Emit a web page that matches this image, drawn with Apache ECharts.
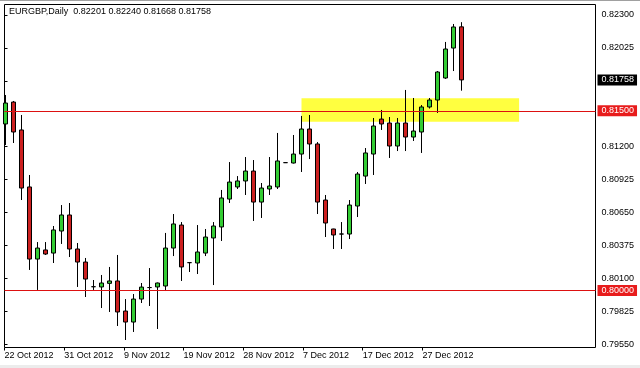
<!DOCTYPE html>
<html><head><meta charset="utf-8">
<script src="https://cdn.jsdelivr.net/npm/echarts@6/dist/echarts.min.js"></script>
<style>html,body{margin:0;padding:0;background:#fff}#c{width:640px;height:368px}</style>
</head><body><div id="c"></div>
<script>
const symbolName = 'EURGBP,Daily';
const opens = [0.81390,0.81573,0.81340,0.80864,0.80262,0.80338,0.80312,0.80496,0.80630,0.80346,0.80237,0.80031,0.80029,0.80059,0.80079,0.79828,0.79736,0.79928,0.80024,0.80029,0.80037,0.80354,0.80546,0.80232,0.80229,0.80312,0.80438,0.80530,0.80763,0.80864,0.80914,0.80997,0.80738,0.80847,0.80864,0.81067,0.81064,0.81139,0.81348,0.81223,0.80755,0.80513,0.80471,0.80471,0.80705,0.80955,0.81139,0.81431,0.81398,0.81206,0.81398,0.81281,0.81323,0.81532,0.81590,0.81774,0.82024,0.82201];
const highs = [0.81632,0.81582,0.81465,0.80964,0.80404,0.80404,0.80538,0.80713,0.80730,0.80396,0.80271,0.80087,0.80129,0.80196,0.80296,0.79928,0.79970,0.80062,0.80187,0.80066,0.80480,0.80638,0.80571,0.80237,0.80546,0.80513,0.80571,0.80839,0.81072,0.80955,0.81114,0.81089,0.80897,0.81114,0.81315,0.81069,0.81298,0.81457,0.81465,0.81239,0.80797,0.80515,0.80571,0.80755,0.80989,0.81189,0.81440,0.81507,0.81448,0.81440,0.81674,0.81607,0.81548,0.81607,0.81832,0.82075,0.82225,0.82240];
const lows = [0.81214,0.81231,0.80755,0.80171,0.80004,0.80296,0.80229,0.80388,0.80279,0.80029,0.79945,0.80004,0.79853,0.79820,0.79703,0.79586,0.79653,0.79895,0.79870,0.79678,0.79995,0.80287,0.80079,0.80154,0.80137,0.80287,0.80045,0.80413,0.80730,0.80847,0.80797,0.80580,0.80605,0.80797,0.80847,0.81065,0.81060,0.80989,0.81097,0.80638,0.80446,0.80346,0.80346,0.80429,0.80613,0.80889,0.80964,0.81340,0.81106,0.81164,0.81164,0.81248,0.81148,0.81519,0.81482,0.81766,0.81832,0.81668];
const closes = [0.81565,0.81323,0.80855,0.80262,0.80354,0.80304,0.80505,0.80630,0.80346,0.80237,0.80095,0.80031,0.80062,0.80079,0.79820,0.79736,0.79928,0.80028,0.80024,0.80062,0.80354,0.80555,0.80196,0.80232,0.80321,0.80446,0.80538,0.80772,0.80905,0.80914,0.80997,0.80738,0.80855,0.80872,0.81081,0.81067,0.81139,0.81348,0.81223,0.80738,0.80563,0.80463,0.80471,0.80713,0.80972,0.81148,0.81373,0.81390,0.81206,0.81398,0.81281,0.81331,0.81532,0.81590,0.81824,0.82016,0.82200,0.81758];
const xTickLabels = ['22 Oct 2012','31 Oct 2012','9 Nov 2012','19 Nov 2012','28 Nov 2012','7 Dec 2012','17 Dec 2012','27 Dec 2012'];
const yTickLabels = ['0.79550','0.79825','0.80100','0.80375','0.80650','0.80925','0.81200','0.81475','0.81750','0.82025','0.82300'];
const levels = [0.815, 0.800];
const zoneBars = [37, 64.2];
const zonePrices = [0.81409, 0.81605];

const FONT = 'Liberation Sans';
const last = opens.length - 1;
const candleData = opens.map((o, i) => [i, o, closes[i], lows[i], highs[i]]);
const header = symbolName + '  ' + [opens[last], highs[last], lows[last], closes[last]].map(v => v.toFixed(5)).join(' ');

const boxLabel = (bg) => ({
  show: true, position: 'end', distance: 2, formatter: p => Number(p.value).toFixed(5),
  color: '#fff', backgroundColor: bg, fontSize: 9, fontFamily: FONT, lineHeight: 10,
  padding: [1, 3, 0, 4]
});

const markLines = levels.map(v => ({
  yAxis: v, lineStyle: { color: '#dd1111', width: 1, type: 'solid' }, label: boxLabel('#e81c1c')
}));
markLines.push({ yAxis: closes[last], lineStyle: { color: 'rgba(0,0,0,0)', width: 1 }, label: boxLabel('#000') });

const chart = echarts.init(document.getElementById('c'), null, { renderer: 'canvas' });
chart.setOption({
  animation: false,
  backgroundColor: '#fff',
  title: { text: header, left: 9, top: 7, padding: 0,
    textStyle: { fontSize: 9, fontWeight: 'normal', color: '#000', fontFamily: FONT } },
  graphic: [
    { type: 'rect', left: 0, top: 0, shape: { width: 640, height: 1 }, style: { fill: '#a0a0a0' }, silent: true },
    { type: 'rect', left: 0, top: 365, shape: { width: 640, height: 3 }, style: { fill: '#ececec' }, silent: true }
  ],
  grid: [
    { left: 4.5, right: 44.5, top: 4.5, bottom: 20.5, show: true, borderColor: '#000', borderWidth: 1, backgroundColor: '#fff', containLabel: false, outerBoundsMode: 'none' },
    { left: 4.5, right: 44.5, top: 15, bottom: 23.7, show: false, containLabel: false, outerBoundsMode: 'none' },
    { left: 4.5, width: 417.9, top: 4.5, bottom: 20.5, show: false, containLabel: false, outerBoundsMode: 'none' }
  ],
  xAxis: [
    { gridIndex: 0, type: 'value', min: -0.125, max: 73.75, show: false },
    { gridIndex: 2, type: 'value', min: 0, max: 7, interval: 1, position: 'bottom',
      axisLine: { show: false }, splitLine: { show: false },
      axisTick: { show: true, length: 3, lineStyle: { color: '#000' } },
      axisLabel: { formatter: v => xTickLabels[v] || '', align: 'left', margin: 4, fontSize: 9, color: '#000', fontFamily: FONT, showMaxLabel: true, showMinLabel: true } },
    { gridIndex: 1, type: 'value', min: 0, max: 1, show: false }
  ],
  yAxis: [
    { gridIndex: 0, type: 'value', min: 0.795234, max: 0.823877, show: false },
    { gridIndex: 1, type: 'value', min: 0, max: 10, interval: 1, position: 'right',
      axisLine: { show: false }, splitLine: { show: false },
      axisTick: { show: true, length: 3, lineStyle: { color: '#000' } },
      axisLabel: { formatter: v => yTickLabels[v] || '', margin: 6, fontSize: 9, color: '#000', fontFamily: FONT, showMaxLabel: true, showMinLabel: true } },
    { gridIndex: 2, type: 'value', min: 0, max: 1, show: false }
  ],
  series: [{
    type: 'candlestick', xAxisIndex: 0, yAxisIndex: 0, barWidth: 4, clip: true,
    data: candleData,
    itemStyle: { color: '#33cc33', color0: '#cc2020', borderColor: '#000', borderColor0: '#000', borderColorDoji: '#000', borderWidth: 1 },
    emphasis: { disabled: true },
    markArea: { silent: true, itemStyle: { color: '#ffff40' },
      data: [[{ xAxis: zoneBars[0], yAxis: zonePrices[1] }, { xAxis: zoneBars[1], yAxis: zonePrices[0] }]] },
    markLine: { silent: true, precision: 5, symbol: ['none', 'none'], animation: false, data: markLines }
  }]
});
</script></body></html>
